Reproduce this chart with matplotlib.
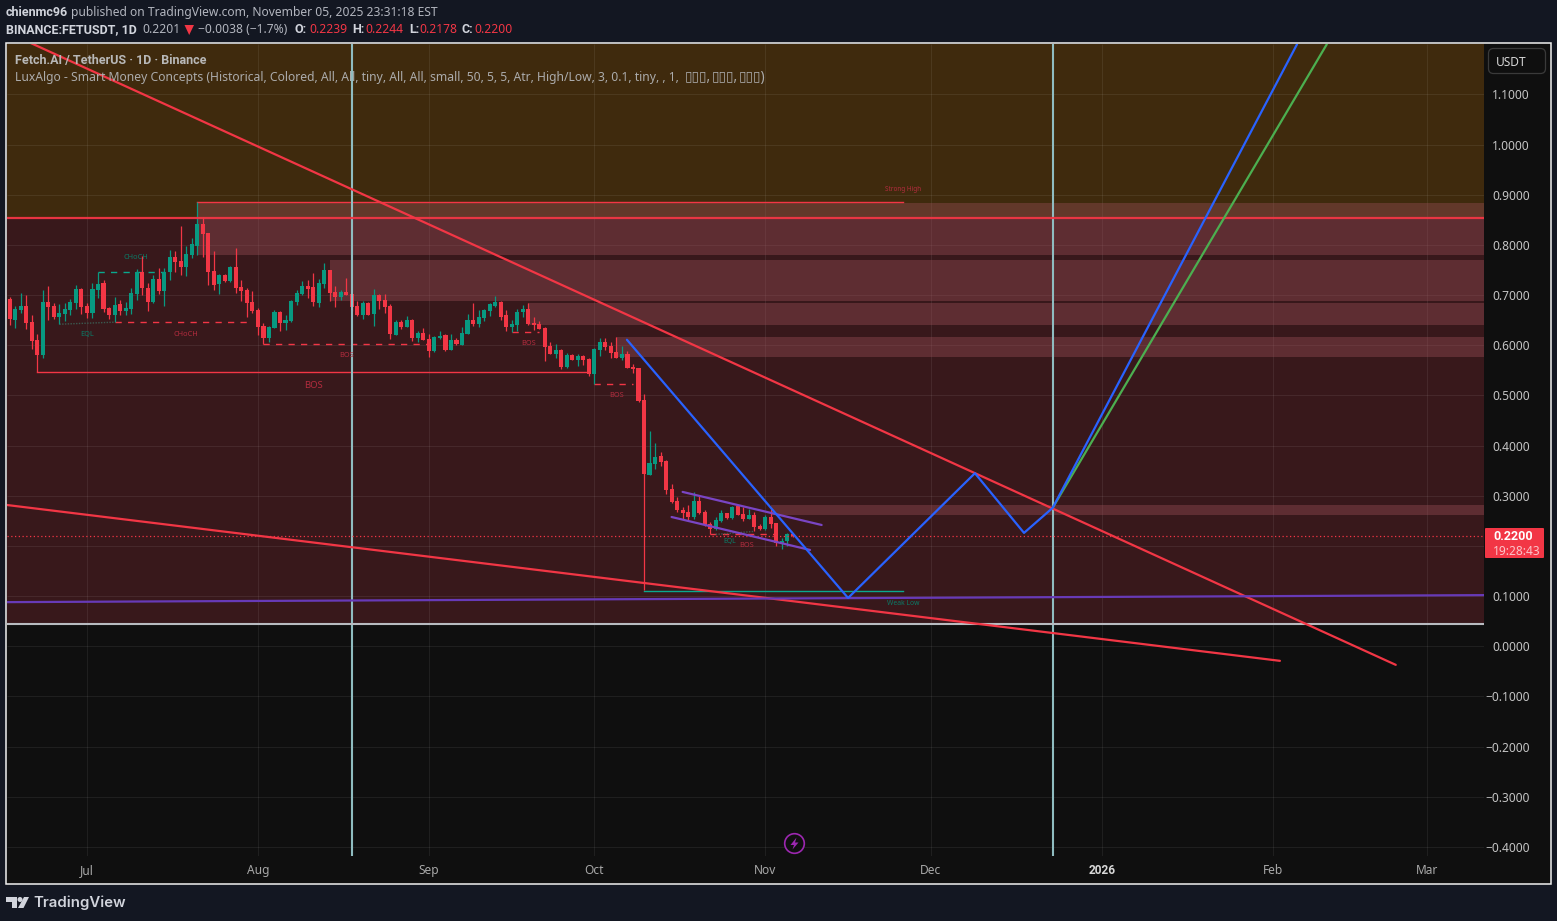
import numpy as np
import matplotlib
matplotlib.use("Agg")
import matplotlib.pyplot as plt
from matplotlib.patches import Rectangle, FancyBboxPatch, Polygon, Circle

# ---------- data (x = days since 1 Jul 2025, y = price) ----------
first_day = -14
highs = [.696,.678,.704,.700,.660,.622,.710,.718,.684,.682,.684,.692,.720,.714,
 .684,.724,.747,.730,.676,.696,.690,.686,.714,.753,
 .777,.724,.740,.755,.754,.790,.788,.838,.798,.813,
 .885,.856,.824,.788,.742,.742,.758,.794,.730,.714,
 .708,.674,.644,.639,.670,.668,.660,.690,.710,.728,
 .730,.744,.732,.764,.750,.718,.710,.734,.702,.688,
 .688,.686,.712,.702,.702,.682,.650,.650,.658,.652,
 .628,.634,.623,.619,.628,.623,.623,.615,.636,.662,
 .684,.670,.672,.684,.698,.688,.670,.650,.672,.680,
 .684,.656,.648,.636,.607,.603,.593,.585,.583,.583,
 .581,.575,.595,.615,.615,.607,.617,.599,.589,.563,
 .555,.503,.429,.405,.387,.371,.324,.298,.278,.282,
 .308,.300,.272,.248,.258,.272,.266,.280,.282,.278,
 .274,.268,.244,.262,.274,.246,.216,.226,.2244]
body_tops = [.692,.672,.678,.678,.647,.611,.686,.686,.678,.664,.672,.686,.712,.712,
 .678,.712,.722,.724,.674,.680,.682,.674,.704,.746,
 .746,.714,.732,.732,.747,.776,.776,.768,.782,.802,
 .842,.842,.824,.748,.740,.740,.756,.756,.716,.710,
 .686,.670,.639,.637,.666,.666,.651,.688,.704,.718,
 .718,.716,.724,.750,.750,.706,.706,.706,.702,.678,
 .684,.684,.700,.700,.690,.678,.646,.646,.650,.650,
 .625,.625,.613,.617,.619,.621,.611,.611,.625,.650,
 .650,.656,.670,.682,.686,.686,.660,.642,.666,.672,
 .672,.644,.642,.634,.599,.591,.591,.581,.581,.579,
 .579,.573,.593,.607,.607,.599,.587,.583,.583,.557,
 .555,.491,.366,.377,.380,.370,.314,.290,.272,.268,
 .290,.290,.268,.244,.252,.266,.266,.278,.280,.264,
 .262,.262,.240,.258,.258,.246,.210,.224,.2239]
body_bots = [.652,.650,.670,.645,.609,.581,.581,.676,.657,.657,.662,.670,.684,.676,
 .664,.664,.710,.672,.660,.660,.668,.668,.672,.702,
 .714,.686,.686,.708,.708,.747,.766,.756,.756,.780,
 .798,.822,.746,.720,.722,.728,.728,.714,.708,.684,
 .668,.637,.615,.615,.635,.645,.645,.649,.686,.702,
 .712,.686,.684,.722,.704,.696,.696,.700,.676,.660,
 .660,.660,.662,.688,.676,.623,.621,.636,.636,.615,
 .615,.611,.589,.589,.615,.591,.591,.603,.601,.623,
 .642,.642,.654,.668,.678,.656,.636,.636,.640,.666,
 .642,.640,.632,.597,.583,.583,.557,.557,.571,.571,
 .571,.543,.543,.591,.597,.585,.575,.575,.555,.553,
 .489,.344,.342,.364,.367,.312,.288,.272,.266,.258,
 .258,.266,.242,.234,.234,.250,.256,.256,.262,.254,
 .254,.238,.234,.234,.244,.206,.206,.210,.2200]
lows = [.641,.635,.664,.633,.593,.546,.574,.650,.653,.642,.649,.660,.672,.662,
 .654,.654,.694,.666,.653,.646,.660,.660,.662,.690,
 .700,.668,.684,.702,.678,.730,.746,.740,.738,.774,
 .780,.776,.720,.710,.702,.727,.726,.704,.688,.657,
 .664,.621,.602,.607,.635,.629,.631,.647,.680,.700,
 .694,.678,.676,.714,.688,.676,.690,.700,.668,.658,
 .652,.660,.638,.672,.664,.613,.621,.632,.636,.609,
 .607,.611,.577,.587,.613,.589,.591,.601,.601,.623,
 .638,.636,.648,.658,.676,.650,.628,.627,.628,.656,
 .640,.630,.632,.569,.583,.575,.553,.555,.571,.559,
 .561,.539,.522,.579,.591,.575,.575,.571,.555,.545,
 .487,.112,.342,.354,.359,.304,.286,.268,.254,.252,
 .254,.264,.240,.224,.232,.248,.254,.254,.262,.250,
 .254,.230,.232,.232,.236,.200,.194,.200,.2178]
directions = ("RGGRRRGRRGGGGR" "RGGRRGRGGG" "RRGRGGRRGG" "GRRRGRGRRR" "RRRGGRGGGG"
              "RRGGRRGRRR" "GRGRRRGRGR" "GRRGGRGRGG" "RGGGGRRGGG" "RRRRRGRGRG"
              "RRGGRRRGRR" "RRGGRRRRRR" "GRRRGGRGRR" "GRRGRRGGR")

month_days = [0, 31, 62, 92, 123, 153, 184, 215, 243]
month_labels = ["Jul", "Aug", "Sep", "Oct", "Nov", "Dec", "2026", "Feb", "Mar"]
price_ticks = [1.1, 1.0, .9, .8, .7, .6, .5, .4, .3, .1, 0, -.1, -.2, -.3, -.4]
grid_prices = price_ticks + [.2]

zone_starts = [20, 44, 80, 96, 124]
zone_tops = [.884, .770, .684, .616, .281]
zone_bots = [.780, .689, .640, .577, .262]

solid_levels = [(20, 148, .885, "red"), (101, 148, .111, "green"), (-9, 91, .546, "red")]
dashed_levels = [(2, 14, .747, "green"), (5, 30, .646, "red"), (32, 62, .602, "red"),
                 (77, 82, .627, "red"), (92, 99, .523, "red"), (113, 125, .223, "red")]
eql_links = [(-5, 5, .642, .646), (114, 121, .223, .229)]

labels = ["BOS", "CHoCH", "CHoCH", "EQL", "BOS", "BOS", "BOS", "BOS", "EQL", "Strong High", "Weak Low"]
label_days = [41, 8.9, 18, 0, 47, 80, 96, 119.6, 116.6, 148, 148]
label_prices = [.519, .774, .622, .622, .579, .603, .499, .201, .209, .911, .086]
label_kinds = ["red", "green", "red", "green", "red", "red", "red", "red", "green", "red", "green"]
label_sizes = [6.8, 5.3, 5.3, 5.3, 5.3, 5.3, 5.3, 5.3, 5.0, 4.6, 4.9]

trend_a_days, trend_a_prices = [-14.5, 237.3], [1.224, -.037]
trend_b_days, trend_b_prices = [-14.5, 216.3], [.2816, -.029]
long_purple_days, long_purple_prices = [-14.5, 253.3], [.088, .102]
channel_top_days, channel_top_prices = [108, 133.2], [.3077, .2418]
channel_bot_days, channel_bot_prices = [106, 131.1], [.2577, .192]
path_days = [97.9, 138, 161, 169.9, 175.1, 219.4]
path_prices = [.611, .0963, .345, .226, .276, 1.2]
green_path_days = [175.1, 224.8]
green_path_prices = [.276, 1.2]
vertical_days = [48, 175.1]
horizontal_red, horizontal_grey, last_price = .853, .045, .22

# ---------- styling ----------
RED, GREEN = "#f23645", "#089981"
BG, PANEL = "#131722", "#0f0f0f"
FONT = ["Noto Sans", "DejaVu Sans"]
BOLD = ["Roboto", "DejaVu Sans"]
plt.rcParams["font.family"] = FONT
W, H = 1557, 921
fig = plt.figure(figsize=(W / 100, H / 100), dpi=100, facecolor=BG)

def px_axes(z):
    a = fig.add_axes([0, 0, 1, 1], zorder=z)
    a.set_xlim(0, W); a.set_ylim(H, 0); a.axis("off")
    a.patch.set_alpha(0)
    return a

back = px_axes(0)
back.add_patch(Rectangle((6, 43), 1545, 841, fc=PANEL, ec="#f0f0f0", lw=1.1))

ax = fig.add_axes([7 / W, 1 - 856 / H, 1477 / W, 812 / H], zorder=1)
ax.set_xlim(-14.5, 253.3)
ax.set_ylim(-.418, 1.2005)
ax.set_facecolor(PANEL)
for s in ax.spines.values():
    s.set_visible(False)

ax.axhspan(horizontal_red, 1.3, fc="#3f2a0d", lw=0, zorder=0)
ax.axhspan(horizontal_grey, horizontal_red, fc="#38181b", lw=0, zorder=0)
ax.vlines(month_days, -.418, 1.2005, color="#ffffff", alpha=.07, lw=.75, zorder=1)
ax.hlines(grid_prices, -14.5, 253.3, color="#ffffff", alpha=.07, lw=.75, zorder=1)

for s0, t, b in zip(zone_starts, zone_tops, zone_bots):
    ax.add_patch(Rectangle((s0, b), 253.3 - s0, t - b, fc="#994f57", alpha=.4, lw=0, zorder=2))

col = {"red": RED, "green": "#0aa88e"}
for a, b, p, k in solid_levels:
    ax.plot([a, b], [p, p], color=col[k], lw=1.0, zorder=3, snap=True)
for a, b, p, k in dashed_levels:
    ax.plot([a, b], [p, p], color=col[k], lw=1.0, dashes=(4.5, 4.5), zorder=3, snap=True)
for a, b, p, q in eql_links:
    ax.plot([a, b], [p, q], color="#3b5a50", lw=1.0, ls=(0, (1, 1)), zorder=3)

days = np.arange(first_day, first_day + len(highs))
assert len(highs) == len(lows) == len(body_tops) == len(body_bots) == len(directions)
colors = [RED if d == "R" else GREEN for d in directions]
ax.vlines(days, lows, highs, colors=colors, lw=.9, zorder=4)
ax.bar(days, np.array(body_tops) - np.array(body_bots), bottom=body_bots, width=.74,
       color=colors, lw=0, zorder=4)

for d in vertical_days:
    ax.axvline(d, color="#8fbcc0", lw=1.5, zorder=5)
ax.axhline(horizontal_red, color=RED, lw=1.6, zorder=5, alpha=.95)
ax.axhline(horizontal_grey, color="#b8bbc0", lw=1.5, zorder=5)
ax.axhline(last_price, color=RED, lw=.9, ls=(0, (1, 2)), zorder=5)

for (xs, ys, c) in [(trend_a_days, trend_a_prices, RED), (trend_b_days, trend_b_prices, RED),
                    (long_purple_days, long_purple_prices, "#673ab7"),
                    (channel_top_days, channel_top_prices, "#7a45c4"),
                    (channel_bot_days, channel_bot_prices, "#7a45c4"),
                    (green_path_days, green_path_prices, "#4caf50"),
                    (path_days, path_prices, "#2962ff")]:
    ax.plot(xs, ys, color=c, lw=1.6, zorder=6, solid_capstyle="round")

label_col = {"red": "#b32c3e", "green": "#0b7a66"}
for t, d, p, k, s in zip(labels, label_days, label_prices, label_kinds, label_sizes):
    ax.text(d, p, t, color=label_col[k], fontsize=s, ha="center", va="center", zorder=7)

ax.set_xticks(month_days)
ax.set_xticklabels(month_labels, color="#a8a8a8", fontsize=8.6)
ax.get_xticklabels()[6].set_fontweight("bold")
ax.get_xticklabels()[6].set_family(BOLD)
ax.get_xticklabels()[6].set_color("#d8d8d8")
ax.xaxis.set_tick_params(length=0, pad=5.8)
ax.yaxis.tick_right()
ax.set_yticks(price_ticks)
ax.set_yticklabels([f"{p:.4f}".replace("-", "\u2212") for p in price_ticks], color="#c4c4c4", fontsize=8.6, ha="right")
ax.yaxis.set_tick_params(length=0, pad=33)

top = px_axes(3)
t = dict(fontsize=8.7, va="center", ha="left")
b = dict(fontsize=9.0, va="center", ha="left", fontweight="bold", family=BOLD)
top.text(6, 12.5, "chienmc96", color="#d1d4dc", **b)
top.text(71, 12.5, "published on TradingView.com, November 05, 2025 23:31:18 EST", color="#b2b5be", **t)
top.text(6, 29.5, "BINANCE:FETUSDT, 1D", color="#d1d4dc", **b)
for x, s, c in [(142, "0.2201", "#b2b5be"), (198, "\u22120.0038 (\u22121.7%)", "#b2b5be"),
                (309, "0.2239", RED), (365, "0.2244", RED), (419, "0.2178", RED), (474, "0.2200", RED)]:
    top.text(x, 29.5, s, color=c, **t)
for x, s in [(295, "O:"), (352, "H:"), (409, "L:"), (462, "C:")]:
    top.text(x, 29.5, s, color="#d1d4dc", **b)
top.add_patch(Polygon([[184.5, 25], [194, 25], [189.2, 35]], fc=RED, lw=0))

top.text(15, 60.5, "Fetch.AI / TetherUS \u00b7 1D \u00b7 Binance", color="#b8b8b8", **b)
top.text(15, 77.5, "LuxAlgo - Smart Money Concepts (Historical, Colored, All, All, tiny, All, All, small, 50, 5, 5, Atr, High/Low, 3, 0.1, tiny, , 1,",
         color="#ababab", fontsize=8.75, va="center", ha="left")
for x, s in [(685, "\u25af\u25af\u25af,"), (712, "\u25af\u25af\u25af,"), (739, "\u25af\u25af\u25af)")]:
    top.text(x, 77.5, s, color="#ababab", fontsize=9.8, va="center", ha="left")

# price scale chrome
top.add_patch(FancyBboxPatch((1491, 51), 52, 20, boxstyle="round,pad=2.5,rounding_size=5",
                             fc=PANEL, ec="#3a3a3a", lw=.9))
top.text(1511, 62, "USDT", color="#d6d6d6", fontsize=8.6, ha="center", va="center")
top.add_patch(FancyBboxPatch((1486, 529), 57, 28, boxstyle="round,pad=1,rounding_size=1", fc=RED, lw=0))
top.text(1493, 536.5, "0.2200", color="white", fontsize=9, fontweight="bold", family=BOLD, ha="left", va="center")
top.text(1493, 551, "19:28:43", color="#fbc4c9", fontsize=8.6, ha="left", va="center")

# lightning icon
top.add_patch(Circle((794.5, 843.5), 9.8, fc=PANEL, ec="#9c27b0", lw=1.2))
top.add_patch(Polygon([[796.5, 837.5], [790.5, 845], [794, 845], [792.5, 849.5], [798.5, 842.5], [795, 842.5]],
                      fc="#9c27b0", lw=0))

# TradingView logo
c = "#d1d4dc"
top.add_patch(Polygon([[6, 897], [17, 897], [17, 908], [12, 908], [12, 902], [6, 902]], fc=c, lw=0))
top.add_patch(Circle((20, 899.5), 2.5, fc=c, lw=0))
top.add_patch(Polygon([[24, 897], [29, 897], [23.5, 908], [18, 908]], fc=c, lw=0))
top.text(33, 902.5, "TradingView", color=c, fontsize=10.8, fontweight="semibold", ha="left", va="center", family=["Inter", "DejaVu Sans"])

fig.savefig("out.png", dpi=100, facecolor=BG)
